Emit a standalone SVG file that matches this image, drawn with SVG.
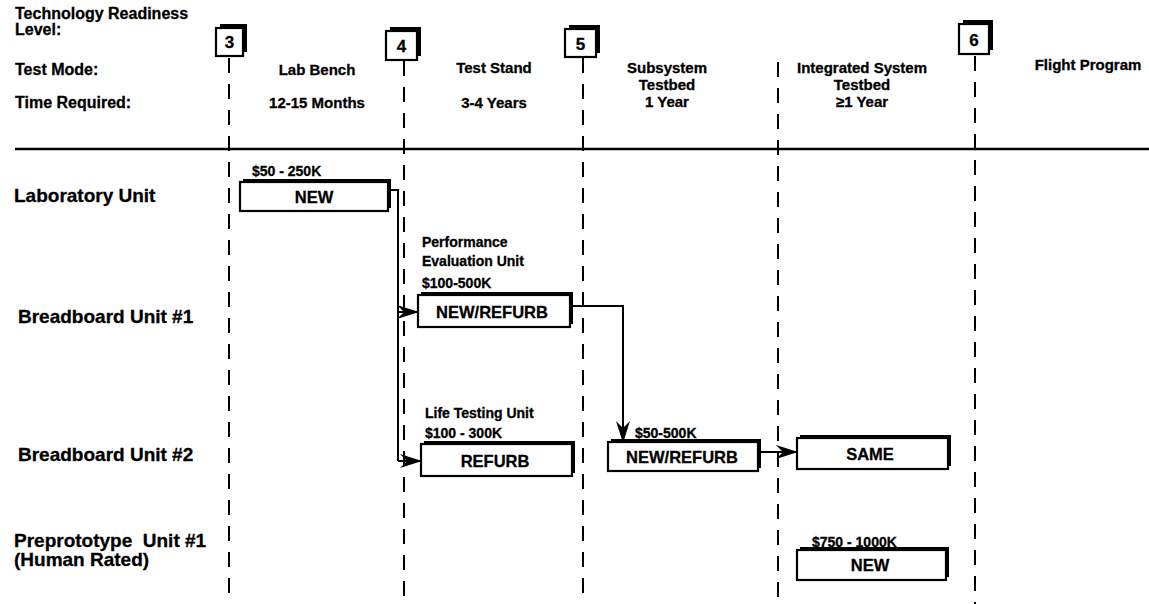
<svg xmlns="http://www.w3.org/2000/svg" width="1149" height="604" viewBox="0 0 1149 604">
<defs>
<style>
text{font-family:"Liberation Sans",Arial,sans-serif;font-weight:bold;fill:#000;stroke:#000;stroke-width:0.3;white-space:pre}
.hd{font-size:16px}
.col{font-size:15px;text-anchor:middle}
.row{font-size:19px}
.cost{font-size:14px}
.bt{font-size:16.5px;text-anchor:middle}
.lvl{font-size:17px;text-anchor:middle}
.sh{fill:#000}
.fr{fill:#fff;stroke:#000;stroke-width:2.2}
.dash{stroke:#000;stroke-width:2;stroke-dasharray:15 11;fill:none}
.conn{stroke:#000;stroke-width:2;fill:none}
</style>
<marker id="arr" viewBox="0 0 22 14" refX="21" refY="7" markerWidth="22" markerHeight="14" markerUnits="userSpaceOnUse" orient="auto">
<path d="M0,0 L22,7 L0,14 L7,7 Z" fill="#000"/>
</marker>
</defs>
<rect width="1149" height="604" fill="#fff"/>

<g id="header">
<text class="hd" x="15" y="19">Technology Readiness</text>
<text class="hd" x="15" y="35">Level:</text>
<text class="hd" x="15" y="75">Test Mode:</text>
<text class="hd" x="15" y="108">Time Required:</text>
<text class="col" x="317" y="75">Lab Bench</text>
<text class="col" x="317" y="108">12-15 Months</text>
<text class="col" x="494" y="73">Test Stand</text>
<text class="col" x="494" y="108">3-4 Years</text>
<text class="col" x="667" y="73">Subsystem</text>
<text class="col" x="667" y="90">Testbed</text>
<text class="col" x="667" y="107">1 Year</text>
<text class="col" x="862" y="73">Integrated System</text>
<text class="col" x="862" y="90">Testbed</text>
<text class="col" x="862" y="107">≥1 Year</text>
<text class="col" x="1088" y="70">Flight Program</text>
</g>

<g id="gridlines">
<line x1="15" y1="149" x2="1149" y2="149" stroke="#000" stroke-width="2.5"/>
<line class="dash" x1="229" y1="58" x2="229" y2="604"/>
<line class="dash" x1="404" y1="61" x2="404" y2="604"/>
<line class="dash" x1="583" y1="58" x2="583" y2="604"/>
<line class="dash" x1="778" y1="62" x2="778" y2="604"/>
<line class="dash" x1="975" y1="56" x2="975" y2="604"/>
</g>

<g id="trl3"><rect class="sh" x="220" y="24" width="27" height="28"/><rect class="fr" x="216" y="28" width="27" height="28"/><text class="lvl" x="229.5" y="48">3</text></g>
<g id="trl4"><rect class="sh" x="390" y="27" width="31" height="29"/><rect class="fr" x="386" y="31" width="31" height="29"/><text class="lvl" x="401.5" y="52">4</text></g>
<g id="trl5"><rect class="sh" x="569" y="25" width="31" height="28"/><rect class="fr" x="565" y="29" width="31" height="28"/><text class="lvl" x="580.5" y="50">5</text></g>
<g id="trl6"><rect class="sh" x="963" y="20" width="30" height="30"/><rect class="fr" x="959" y="24" width="30" height="30"/><text class="lvl" x="974" y="46">6</text></g>

<g id="rowlabels">
<text class="row" x="14" y="202">Laboratory Unit</text>
<text class="row" x="18" y="323">Breadboard Unit #1</text>
<text class="row" x="18" y="461">Breadboard Unit #2</text>
<text class="row" x="14" y="547">Preprototype  Unit #1</text>
<text class="row" x="14" y="566">(Human Rated)</text>
</g>

<g id="lab-new">
<text class="cost" x="252" y="176">$50 - 250K</text>
<rect class="sh" x="243" y="179" width="148" height="29"/>
<rect class="fr" x="240" y="182" width="148" height="29"/>
<text class="bt" x="314" y="203">NEW</text>
</g>

<g id="bb1-perf">
<text class="cost" x="422" y="247">Performance</text>
<text class="cost" x="422" y="266">Evaluation Unit</text>
<text class="cost" x="422" y="288">$100-500K</text>
<rect class="sh" x="421" y="292" width="152" height="32"/>
<rect class="fr" x="418" y="295" width="152" height="32"/>
<text class="bt" x="492" y="318">NEW/REFURB</text>
</g>

<g id="bb2-life">
<text class="cost" x="425" y="418">Life Testing Unit</text>
<text class="cost" x="425" y="438">$100 - 300K</text>
<rect class="sh" x="424" y="441" width="151" height="32"/>
<rect class="fr" x="421" y="444" width="151" height="32"/>
<text class="bt" x="495" y="467">REFURB</text>
</g>

<g id="bb2-sub">
<text class="cost" x="635" y="438">$50-500K</text>
<rect class="sh" x="611" y="439" width="150" height="29"/>
<rect class="fr" x="608" y="442" width="150" height="29"/>
<text class="bt" x="682" y="463">NEW/REFURB</text>
</g>

<g id="bb2-same">
<rect class="sh" x="800" y="435" width="151" height="31"/>
<rect class="fr" x="797" y="438" width="151" height="31"/>
<text class="bt" x="870" y="460">SAME</text>
</g>

<g id="pp-new">
<text class="cost" x="812" y="547">$750 - 1000K</text>
<rect class="sh" x="800" y="547" width="149" height="30"/>
<rect class="fr" x="797" y="550" width="149" height="30"/>
<text class="bt" x="870" y="571">NEW</text>
</g>

<g id="connectors">
<path class="conn" d="M388,190 H398 V461"/>
<path class="conn" d="M398,312 H418" marker-end="url(#arr)"/>
<path class="conn" d="M398,461 H421" marker-end="url(#arr)"/>
<path class="conn" d="M570,306 H623 V442" marker-end="url(#arr)"/>
<path class="conn" d="M758,452 H797" marker-end="url(#arr)"/>
</g>
</svg>
